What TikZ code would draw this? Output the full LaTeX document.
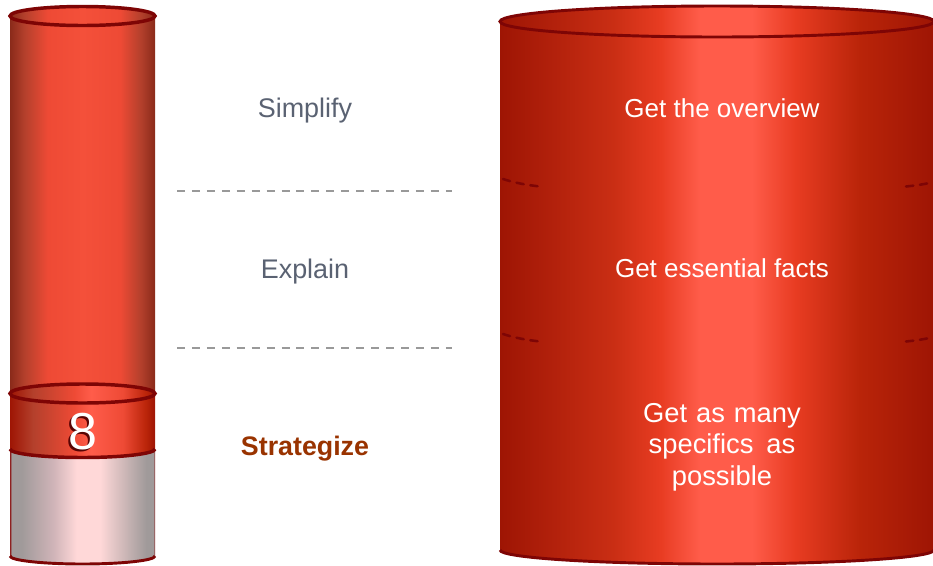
\documentclass[tikz,border=0pt]{standalone}
\usepackage{fontspec}
\setmainfont{Liberation Sans}
\definecolor{rimred}{HTML}{7E0505}
\definecolor{slategray}{HTML}{5A6272}
\definecolor{stratbrown}{HTML}{993300}
\definecolor{redA}{HTML}{9E1504}
\definecolor{redB}{HTML}{C92E14}
\definecolor{redC}{HTML}{E83C22}
\definecolor{redD}{HTML}{FF5C4A}
\definecolor{redE}{HTML}{B92409}
\definecolor{tubeA}{HTML}{8A2A1A}
\definecolor{tubeB}{HTML}{B4402C}
\definecolor{tubeC}{HTML}{EE4A35}
\definecolor{tubeD}{HTML}{F4503A}
\definecolor{grayA}{HTML}{A09A9A}
\definecolor{grayB}{HTML}{D0B4B8}
\definecolor{grayC}{HTML}{FFD8D8}
\definecolor{grayE}{HTML}{8E2020}
\pgfdeclarehorizontalshading{bigred}{100bp}{color(0bp)=(redA);color(25bp)=(redA);color(38bp)=(redB);color(43.5bp)=(redC);color(48bp)=(redD);color(54bp)=(redD);color(59bp)=(redC);color(66.5bp)=(redE);color(75bp)=(redA);color(100bp)=(redA)}
\pgfdeclarehorizontalshading{tubered}{100bp}{color(0bp)=(tubeA);color(25bp)=(tubeA);color(30bp)=(tubeB);color(38bp)=(tubeC);color(50bp)=(tubeD);color(63bp)=(tubeC);color(70bp)=(tubeB);color(75bp)=(tubeA);color(100bp)=(tubeA)}
\pgfdeclarehorizontalshading{bandred}{100bp}{color(0bp)=(redA);color(25bp)=(redA);color(33bp)=(tubeB);color(47bp)=(tubeC);color(53bp)=(redD);color(64bp)=(tubeC);color(72bp)=(redE);color(75bp)=(redA);color(100bp)=(redA)}
\pgfdeclarehorizontalshading{tubegray}{100bp}{color(0bp)=(grayE);color(25bp)=(grayE);color(25.6bp)=(grayA);color(29bp)=(grayA);color(40bp)=(grayB);color(48bp)=(grayC);color(56bp)=(grayC);color(72bp)=(grayA);color(74.4bp)=(grayA);color(75bp)=(grayE);color(100bp)=(grayE)}
\tikzset{rim/.style={draw=rimred, line width=2.6pt},
  phrase/.style={font=\fontsize{19.5}{23.6}\selectfont, text=white, align=center},
  level/.style={font=\fontsize{20.2}{24}\selectfont, text=slategray},
  divider/.style={dash pattern=on 6pt off 5.2pt, draw=gray!80, line width=1.1pt},
  seam/.style={draw=rimred, line width=1.9pt, line cap=round, dash pattern=on 5.5pt off 5pt}}
\begin{document}
\begin{tikzpicture}[x=0.75pt, y=0.75pt]
\useasboundingbox (0,0) rectangle (933,-565);
% left tube
\shade[shading=tubegray] (10,-449) -- (10,-556) arc[start angle=180, end angle=360, x radius=72.5, y radius=8] -- (155,-449) -- cycle;
\draw[rimred, line width=2.2pt] (10,-556) arc[start angle=180, end angle=360, x radius=72.5, y radius=8];
\shade[shading=tubered] (10,-16) -- (10,-393) -- (155,-393) -- (155,-16) -- cycle;
\shade[shading=bandred] (10,-393) -- (10,-449) arc[start angle=180, end angle=360, x radius=72.5, y radius=8.5] -- (155,-393) -- cycle;
\draw[rim] (10,-449) arc[start angle=180, end angle=360, x radius=72.5, y radius=8.5];
\draw[rim, shading=tubered, shade] (82.5,-16) ellipse[x radius=72.5, y radius=9.5];
\draw[rim, shading=bandred, shade] (82.5,-393.5) ellipse[x radius=72.5, y radius=9.5];
\node[font=\fontsize{39}{39}\selectfont, text=rimred!70!black] (eightshadow) at (80.5,-433.5) {8};
\node[font=\fontsize{39}{39}\selectfont, text=white] (eight) at (82.5,-432) {8};
% right cylinder
\shade[shading=bigred] (500,-21) -- (500,-550) arc[start angle=180, end angle=360, x radius=217, y radius=14] -- (934,-21) -- cycle;
\draw[rimred, line width=2.2pt] (500,-550) arc[start angle=180, end angle=360, x radius=217, y radius=14];
\draw[rim, line width=2.2pt, shading=bigred, shade] (717,-21.5) ellipse[x radius=217, y radius=15.5];
\draw[seam] (503,-179) .. controls (515,-183) and (527,-185) .. (540,-186.5);
\draw[seam] (906,-186.5) .. controls (915,-185.5) and (924,-184.5) .. (933,-182);
\draw[seam] (503,-334) .. controls (515,-338) and (527,-340) .. (540,-341.5);
\draw[seam] (906,-341.5) .. controls (915,-340.5) and (924,-339.5) .. (933,-337);
% level names
\node[level] (simplify) at (305,-111) {Simplify};
\node[level] (explain) at (305,-271.5) {Explain};
\node[font=\bfseries\fontsize{20.1}{24}\selectfont, text=stratbrown] (strategize) at (305,-448.5) {Strategize};
\coordinate (divAl) at (177,-191);
\coordinate (divAr) at (452,-191);
\coordinate (divBl) at (177,-348);
\coordinate (divBr) at (452,-348);
\draw[divider] (divAl) -- (divAr);
\draw[divider] (divBl) -- (divBr);
% right texts
\node[phrase] (overview) at (722,-108) {Get the overview};
\node[phrase] (facts) at (722,-268) {Get essential facts};
\node[phrase, font=\fontsize{20.5}{23.6}\selectfont] (specifics) at (722,-447) {Get\hspace{1pt} as\hspace{1pt} many\\specifics\hspace{4pt} as\\possible};
\end{tikzpicture}
\end{document}
